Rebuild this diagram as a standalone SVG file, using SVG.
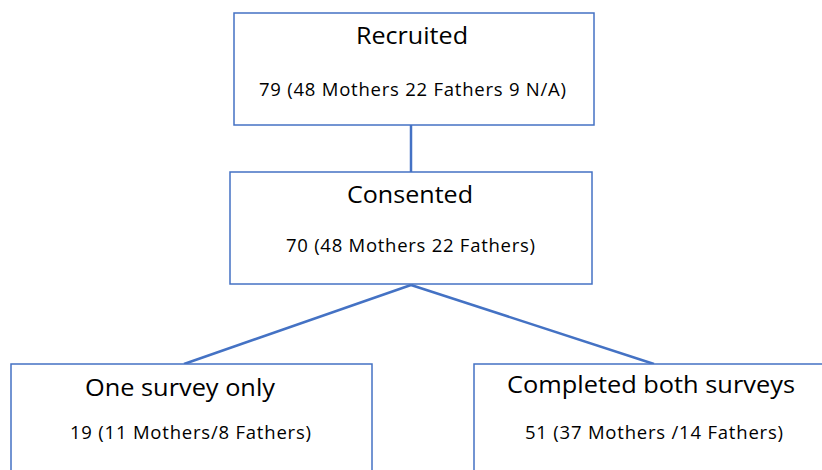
<svg xmlns="http://www.w3.org/2000/svg" width="822" height="470" viewBox="0 0 822 470">
<style>
.box{fill:#fff;stroke:#4472c4;stroke-width:1.5}
.conn{stroke:#4472c4;stroke-width:2.5;fill:none}
.t{font-family:"Open Sans","Liberation Sans",sans-serif;font-size:24px;fill:#000;text-anchor:middle}
.s{font-family:"Open Sans","Liberation Sans",sans-serif;font-size:18.5px;fill:#000;text-anchor:middle}
</style>
<rect width="822" height="470" fill="#fff"/>
<g id="connectors">
<line class="conn" x1="411" y1="125" x2="411" y2="173"/>
<line class="conn" x1="411" y1="285" x2="184" y2="364"/>
<line class="conn" x1="411" y1="285" x2="654" y2="364"/>
</g>
<g id="recruited">
<rect class="box" x="234" y="13" width="360" height="112"/>
<text class="t" x="412" y="44" textLength="112" lengthAdjust="spacingAndGlyphs">Recruited</text>
<text class="s" x="412.5" y="96" textLength="307" lengthAdjust="spacing">79 (48 Mothers 22 Fathers 9 N/A)</text>
</g>
<g id="consented">
<rect class="box" x="230" y="172" width="362" height="112"/>
<text class="t" x="410" y="203" textLength="126" lengthAdjust="spacingAndGlyphs">Consented</text>
<text class="s" x="410.5" y="252" textLength="249" lengthAdjust="spacing">70 (48 Mothers 22 Fathers)</text>
</g>
<g id="one-survey">
<rect class="box" x="11" y="364" width="361" height="120"/>
<text class="t" x="180" y="396" textLength="190" lengthAdjust="spacingAndGlyphs">One survey only</text>
<text class="s" x="190.5" y="439" textLength="241" lengthAdjust="spacing">19 (11 Mothers/8 Fathers)</text>
</g>
<g id="both-surveys">
<rect class="box" x="474" y="364" width="360" height="120"/>
<text class="t" x="651" y="393" textLength="288" lengthAdjust="spacingAndGlyphs">Completed both surveys</text>
<text class="s" x="654" y="439" textLength="258" lengthAdjust="spacing">51 (37 Mothers /14 Fathers)</text>
</g>
</svg>
